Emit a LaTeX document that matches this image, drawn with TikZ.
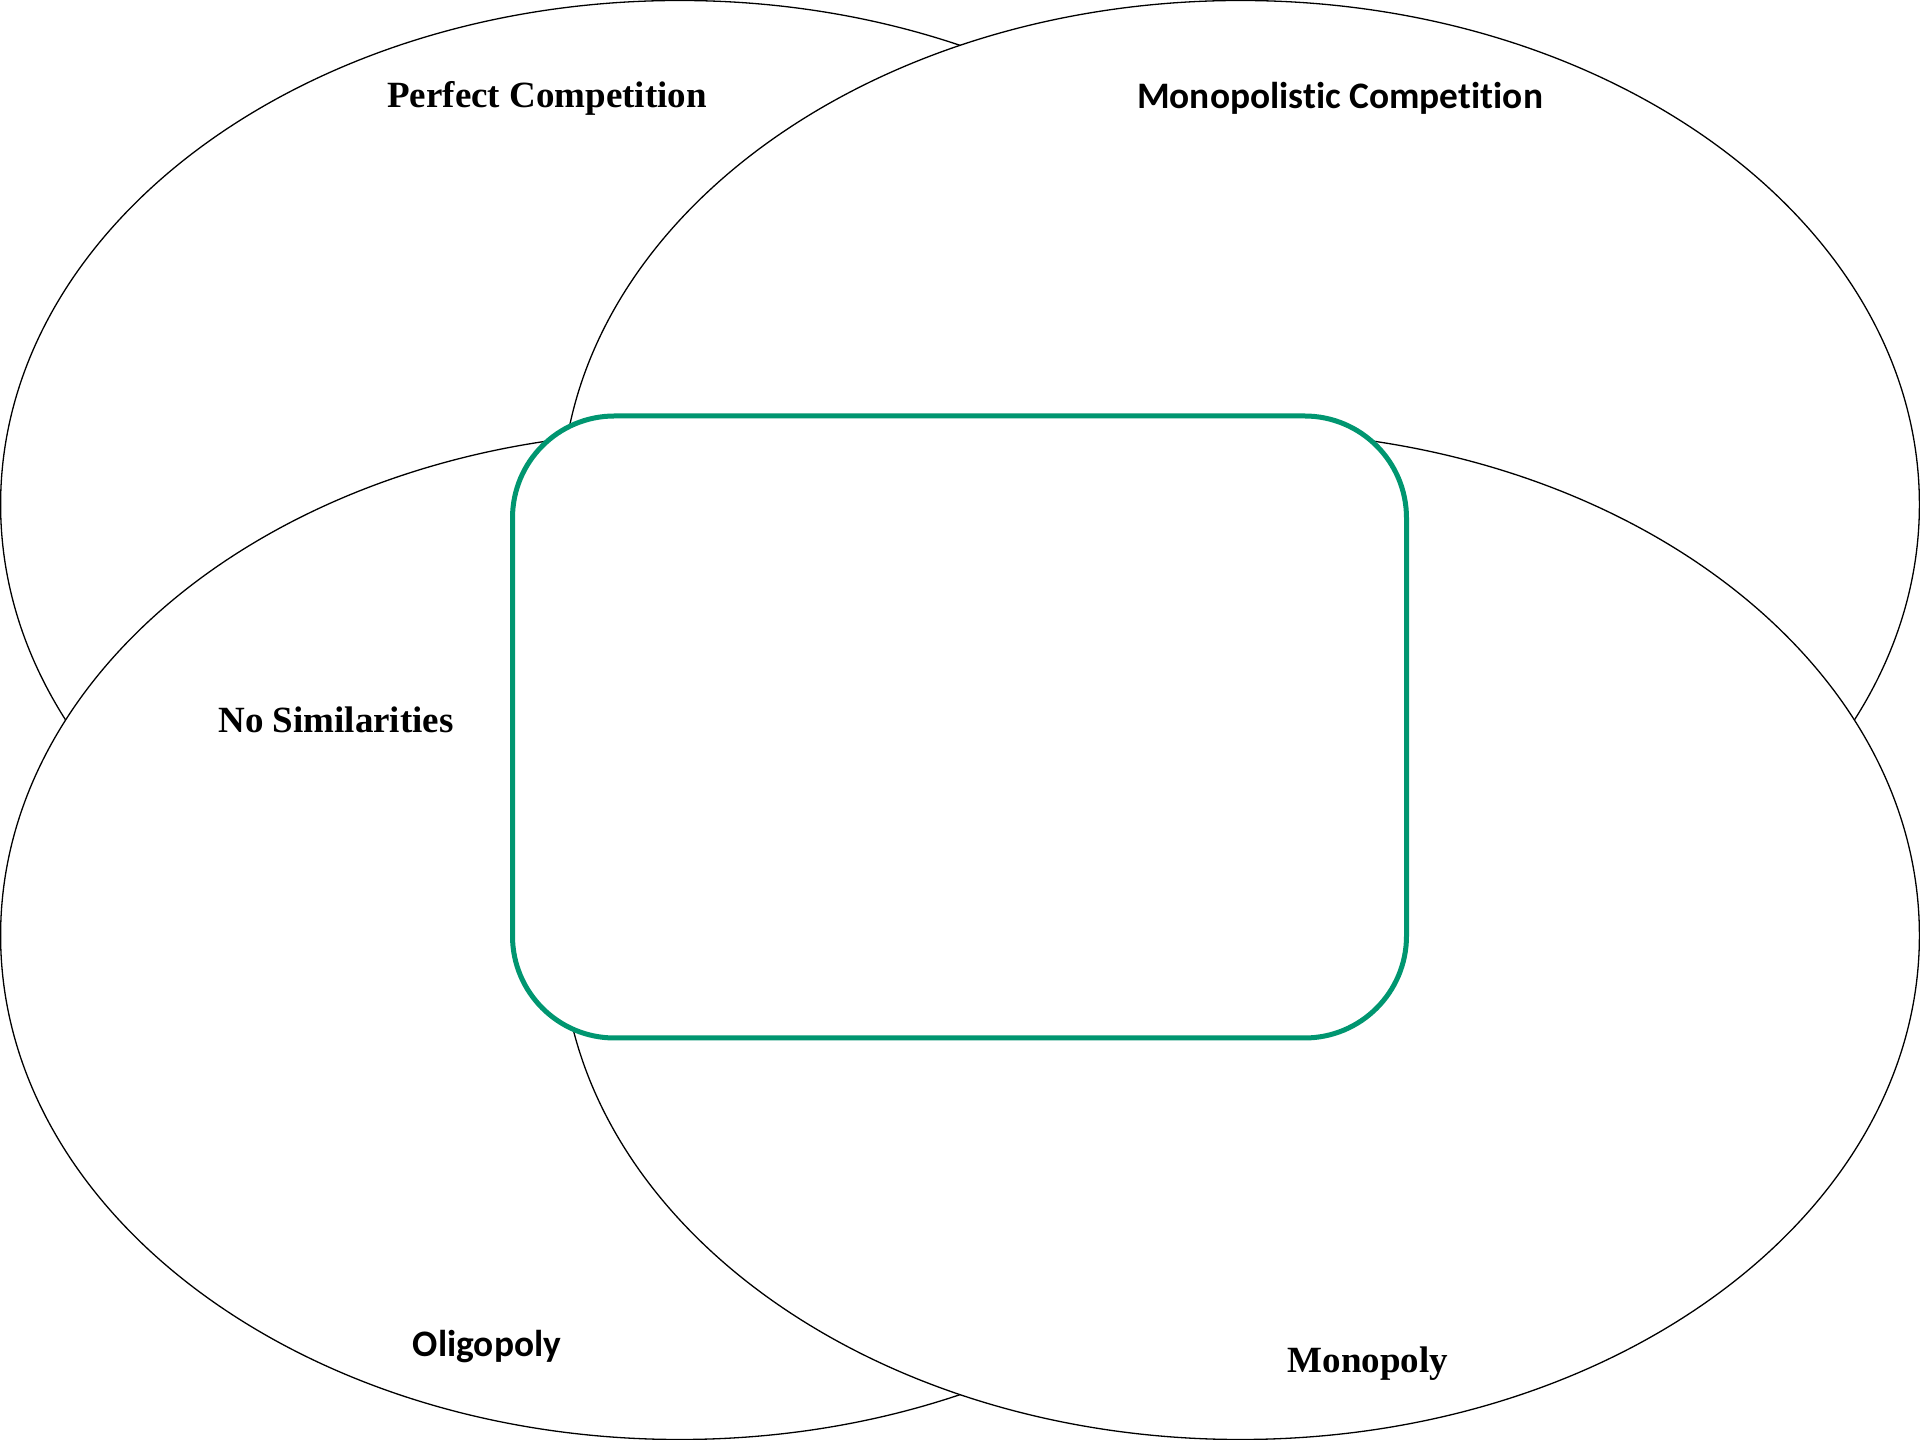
\documentclass[tikz,border=0pt]{standalone}
\usepackage{fontspec}
\setmainfont{Liberation Serif}
\newfontfamily\calibrifont[Ligatures=NoCommon]{Carlito}
\definecolor{boxgreen}{RGB}{0,150,112}
\begin{document}
\begin{tikzpicture}[x=1pt,y=1pt,
  market/.style={draw=black, fill=white, line width=1.3pt},
  serifhead/.style={font=\fontsize{37}{44}\selectfont\bfseries, inner sep=0pt},
  sanshead/.style={font=\calibrifont\fontsize{37.4}{44}\selectfont\bfseries, inner sep=0pt},
  overlapbox/.style={draw=boxgreen, fill=white, line width=5pt, rounded corners=102pt}]
\useasboundingbox (0,0) rectangle (1920,1440);
\fill[white] (0,0) rectangle (1920,1440);
% the four market-structure ovals
\draw[market] (679.6,935.5) ellipse [x radius=679pt, y radius=504pt];
\draw[market] (1240.4,935.5) ellipse [x radius=679pt, y radius=504pt];
\draw[market] (679.6,504.5) ellipse [x radius=679pt, y radius=504pt];
\draw[market] (1240.4,504.5) ellipse [x radius=679pt, y radius=504pt];
% shared central area
\node[overlapbox, minimum width=894pt, minimum height=622pt] (common) at (959.5,713) {};
% labels
\node[serifhead] (pc) at (547,1341.5) {Perfect Competition};
\node[sanshead] (mc) at (1340,1342) {Monopolistic Competition};
\node[serifhead] (ns) at (336,720) {No Similarities};
\node[sanshead] (ol) at (487,93) {Oligopoly};
\node[serifhead] (mo) at (1368,76) {Monopoly};
\end{tikzpicture}
\end{document}
